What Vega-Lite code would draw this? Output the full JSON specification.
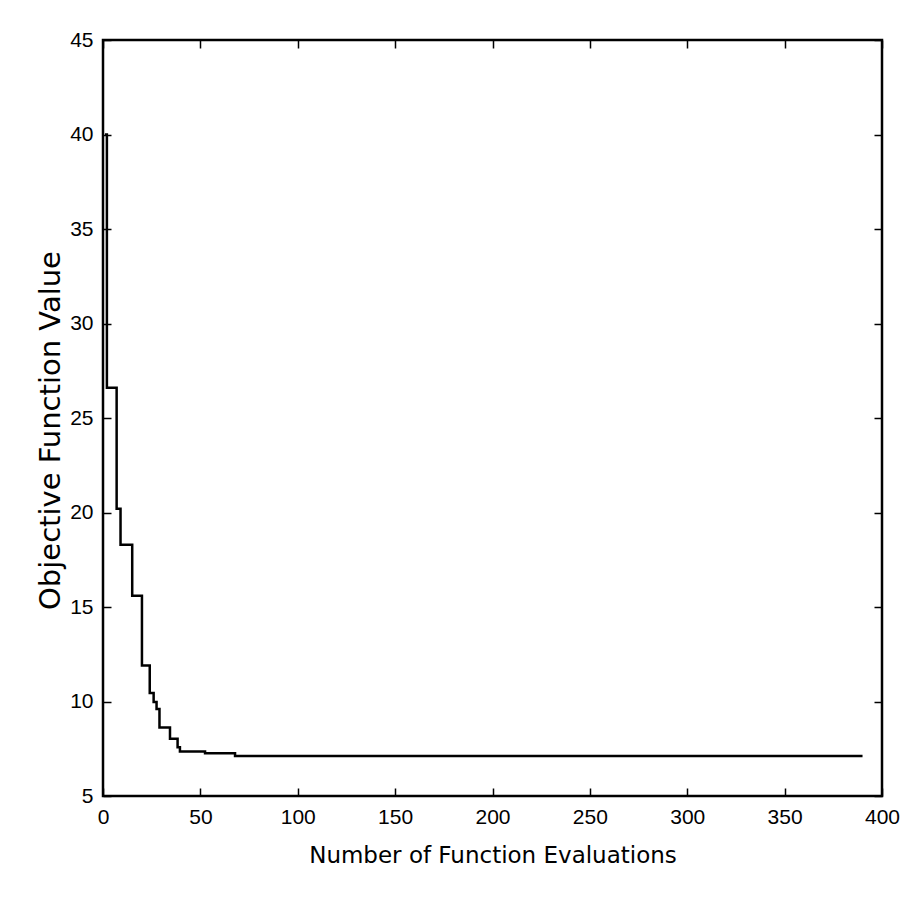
{
  "$schema": "https://vega.github.io/schema/vega-lite/v6.json",
  "width": 779,
  "height": 756,
  "autosize": {"type": "none"},
  "padding": {"left": 103, "top": 40, "right": 34, "bottom": 127},
  "background": "white",
  "config": {
    "view": {"stroke": "black", "strokeWidth": 2.5},
    "axis": {
      "grid": false,
      "domain": false,
      "tickColor": "black",
      "tickWidth": 1.5,
      "tickSize": -8,
      "labelFont": "Liberation Sans",
      "labelFontSize": 21,
      "labelColor": "black",
      "titleColor": "black",
      "titleFont": "DejaVu Sans",
      "titleFontWeight": "normal"
    }
  },
  "data": {
    "values": [
      {"evals": 1, "value": 40},
      {"evals": 2, "value": 26.6},
      {"evals": 7, "value": 20.2},
      {"evals": 9, "value": 18.3},
      {"evals": 15, "value": 15.6},
      {"evals": 20, "value": 11.9},
      {"evals": 24, "value": 10.45},
      {"evals": 26, "value": 9.97},
      {"evals": 27.5, "value": 9.6},
      {"evals": 29, "value": 8.63},
      {"evals": 34.4, "value": 8.03},
      {"evals": 38.3, "value": 7.58},
      {"evals": 39.5, "value": 7.35},
      {"evals": 52.4, "value": 7.26},
      {"evals": 67.8, "value": 7.12},
      {"evals": 390, "value": 7.12}
    ]
  },
  "layer": [
    {
      "mark": {"type": "line", "interpolate": "step-after", "color": "black", "strokeWidth": 2.5},
      "encoding": {
        "x": {
          "field": "evals", "type": "quantitative",
          "scale": {"domain": [0, 400], "nice": false, "zero": false},
          "axis": {
            "orient": "bottom",
            "values": [0, 50, 100, 150, 200, 250, 300, 350, 400],
            "labelPadding": 18,
            "labelFlush": false,
            "title": "Number of Function Evaluations",
            "titleFontSize": 23,
            "titleBaseline": "alphabetic",
            "titleY": 66
          }
        },
        "y": {
          "field": "value", "type": "quantitative",
          "scale": {"domain": [5, 45], "nice": false, "zero": false},
          "axis": {
            "orient": "left",
            "values": [5, 10, 15, 20, 25, 30, 35, 40, 45],
            "labelPadding": 18,
            "labelFlush": false,
            "title": "Objective Function Value",
            "titleFontSize": 29,
            "titleAngle": -90,
            "titleBaseline": "alphabetic",
            "titleAlign": "center",
            "titleX": -44,
            "titleY": 390
          }
        }
      }
    },
    {
      "mark": {"type": "line", "interpolate": "step-after", "strokeOpacity": 0},
      "encoding": {
        "x": {
          "field": "evals", "type": "quantitative",
          "scale": {"domain": [0, 400], "nice": false, "zero": false},
          "axis": {"orient": "top", "values": [0, 50, 100, 150, 200, 250, 300, 350, 400], "labels": false, "title": null}
        },
        "y": {
          "field": "value", "type": "quantitative",
          "scale": {"domain": [5, 45], "nice": false, "zero": false},
          "axis": {"orient": "right", "values": [5, 10, 15, 20, 25, 30, 35, 40, 45], "labels": false, "title": null}
        }
      }
    }
  ],
  "resolve": {"axis": {"x": "independent", "y": "independent"}}
}
